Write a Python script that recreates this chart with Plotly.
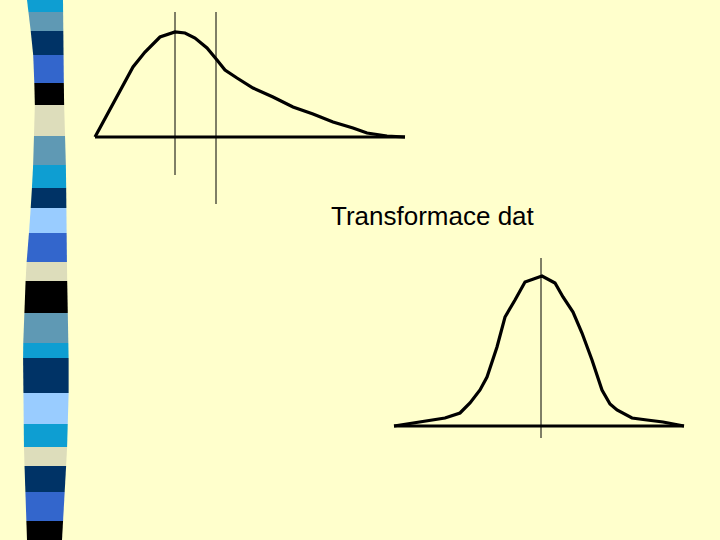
import numpy as np
import plotly.graph_objects as go

BG = "#FFFFCC"

# decorative stripe on the left: block boundaries (y, in px from top) and colours
stripe_y = [0, 12, 31, 55, 83, 105, 136, 165, 188, 208, 233, 262, 281, 313, 343, 358,
            393, 424, 447, 466, 492, 521, 540]
stripe_colors = ["#0E9ED2", "#5F99B4", "#003366", "#3366CC", "#000000", "#DDDDBB",
                 "#5F99B4", "#0E9ED2", "#003366", "#99CCFF", "#3366CC", "#DDDDBB",
                 "#000000", "#5F99B4", "#0E9ED2", "#003366", "#99CCFF", "#0E9ED2",
                 "#DDDDBB", "#003366", "#3366CC", "#000000"]
edge_left_y = [0, 50, 100, 170, 220, 270, 350, 450, 540]
edge_left_x = [27, 33, 35, 33, 30, 26, 23, 24, 27]
edge_right_y = [0, 100, 170, 270, 380, 450, 540]
edge_right_x = [63, 64, 66, 67, 69, 67, 62]

# skewed distribution (top)
skew_x = [95, 133, 145, 160, 175, 185, 195, 207, 217, 225, 237, 253, 273, 293, 313,
          333, 353, 367, 387, 405]
skew_y = [137, 67, 52, 37, 32, 33, 38, 48, 60, 70, 78, 88, 97, 107, 114, 122, 128,
          133, 136, 137]
skew_base = [95, 405, 137]
skew_marks = [175, 216]
skew_marks_top = [12, 12]
skew_marks_bottom = [175, 204]

# symmetric distribution (bottom)
norm_x = [394, 420, 445, 460, 470, 480, 487, 497, 505, 515, 525, 542, 555, 563, 573,
          582, 592, 602, 610, 617, 632, 647, 663, 684]
norm_y = [426, 422, 418, 413, 403, 390, 377, 347, 317, 300, 282, 276, 283, 297, 312,
          333, 360, 390, 404, 410, 418, 420, 422, 426]
norm_base = [394, 684, 426]
norm_mark = [541, 258, 438]

label = "Transformace dat"

fig = go.Figure()

# stripe blocks
for i, col in enumerate(stripe_colors):
    y0, y1 = stripe_y[i], stripe_y[i + 1]
    xl0, xl1 = np.interp([y0, y1], edge_left_y, edge_left_x)
    xr0, xr1 = np.interp([y0, y1], edge_right_y, edge_right_x)
    fig.add_trace(go.Scatter(x=[xl0, xr0, xr1, xl1, xl0], y=[y0, y0, y1, y1, y0],
                             mode="lines", fill="toself", fillcolor=col,
                             line=dict(width=0, color=col), hoverinfo="skip"))

blk = dict(color="black", width=3.2)
thin = dict(color="black", width=1)

# top chart
fig.add_trace(go.Scatter(x=[skew_base[0], skew_base[1]], y=[skew_base[2]] * 2,
                         mode="lines", line=blk))
fig.add_trace(go.Scatter(x=skew_x, y=skew_y, mode="lines", line=blk))
for mx, t, b in zip(skew_marks, skew_marks_top, skew_marks_bottom):
    fig.add_trace(go.Scatter(x=[mx, mx], y=[t, b], mode="lines", line=thin))

# bottom chart
fig.add_trace(go.Scatter(x=[norm_base[0], norm_base[1]], y=[norm_base[2]] * 2,
                         mode="lines", line=blk))
fig.add_trace(go.Scatter(x=norm_x, y=norm_y, mode="lines", line=blk))
fig.add_trace(go.Scatter(x=[norm_mark[0]] * 2, y=[norm_mark[1], norm_mark[2]],
                         mode="lines", line=thin))

fig.add_annotation(x=432.5, y=216, text=label, showarrow=False,
                   font=dict(family="Liberation Sans, Arial", size=26, color="black"))

fig.update_xaxes(range=[0, 720], visible=False, fixedrange=True)
fig.update_yaxes(range=[540, 0], visible=False, fixedrange=True)
fig.update_layout(width=720, height=540, margin=dict(l=0, r=0, t=0, b=0),
                  paper_bgcolor=BG, plot_bgcolor=BG, showlegend=False,
                  hovermode=False)

# drop the browser's default body margin so the slide fills the window
fig.write_html("out.html", config={"displayModeBar": False},
               post_script="document.body.style.margin='0';"
                           "document.body.style.background='%s';" % BG)
